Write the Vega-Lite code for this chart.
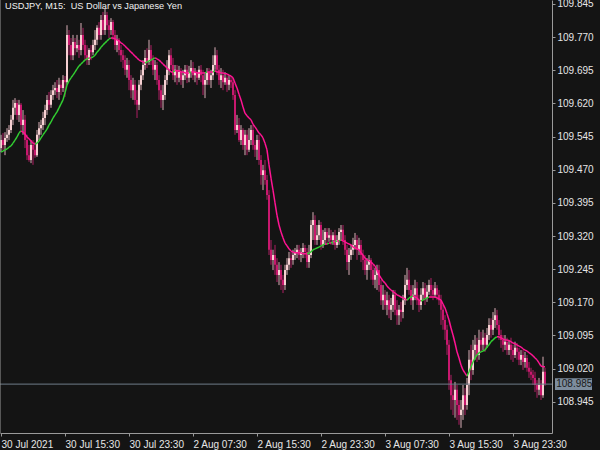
{
"$schema":"https://vega.github.io/schema/vega-lite/v6.json",
"width":552,"height":433,
"autosize":{"type":"none"},
"padding":{"left":0,"top":0,"right":48,"bottom":17},
"background":"#141414",
"title":{"text":"USDJPY, M15:\u00a0 US Dollar vs Japanese Yen","anchor":"start","orient":"top","offset":-13,"dx":5,"frame":"group","font":"Liberation Sans","fontSize":9.2,"fontWeight":"normal","color":"#f0f0f0"},
"config":{"view":{"stroke":null},"axis":{"grid":false,"domainColor":"#9a9a9a","tickColor":"#9a9a9a","labelColor":"#e6e6e6","labelFont":"Liberation Sans","labelFontSize":10,"title":null,"domainWidth":1,"tickWidth":1,"labelOverlap":false,"tickSize":3,"labelBound":false}},
"data":{"values":[
{"i":0,"o":109.519,"h":109.549,"l":109.510,"c":109.537,"m":109.510},
{"i":1,"o":109.537,"h":109.553,"l":109.515,"c":109.526,"m":109.512},
{"i":2,"o":109.526,"h":109.555,"l":109.503,"c":109.542,"m":109.515},
{"i":3,"o":109.542,"h":109.564,"l":109.533,"c":109.549,"m":109.517},
{"i":4,"o":109.549,"h":109.571,"l":109.537,"c":109.560,"m":109.521},
{"i":5,"o":109.560,"h":109.594,"l":109.553,"c":109.583,"m":109.524},
{"i":6,"o":109.583,"h":109.628,"l":109.571,"c":109.610,"m":109.530},
{"i":7,"o":109.610,"h":109.632,"l":109.594,"c":109.621,"m":109.537},
{"i":8,"o":109.621,"h":109.628,"l":109.583,"c":109.594,"m":109.544},
{"i":9,"o":109.594,"h":109.628,"l":109.578,"c":109.617,"m":109.553},
{"i":10,"o":109.617,"h":109.621,"l":109.560,"c":109.571,"m":109.558},
{"i":11,"o":109.571,"h":109.605,"l":109.549,"c":109.583,"m":109.555},
{"i":12,"o":109.583,"h":109.594,"l":109.519,"c":109.537,"m":109.551},
{"i":13,"o":109.537,"h":109.549,"l":109.492,"c":109.503,"m":109.544},
{"i":14,"o":109.503,"h":109.526,"l":109.488,"c":109.492,"m":109.540},
{"i":15,"o":109.492,"h":109.537,"l":109.485,"c":109.526,"m":109.535},
{"i":16,"o":109.526,"h":109.537,"l":109.481,"c":109.515,"m":109.530},
{"i":17,"o":109.515,"h":109.533,"l":109.497,"c":109.503,"m":109.528},
{"i":18,"o":109.503,"h":109.560,"l":109.499,"c":109.549,"m":109.530},
{"i":19,"o":109.549,"h":109.578,"l":109.537,"c":109.564,"m":109.535},
{"i":20,"o":109.564,"h":109.583,"l":109.549,"c":109.571,"m":109.542},
{"i":21,"o":109.571,"h":109.601,"l":109.560,"c":109.587,"m":109.549},
{"i":22,"o":109.587,"h":109.617,"l":109.571,"c":109.605,"m":109.555},
{"i":23,"o":109.605,"h":109.639,"l":109.594,"c":109.628,"m":109.562},
{"i":24,"o":109.628,"h":109.646,"l":109.605,"c":109.617,"m":109.571},
{"i":25,"o":109.617,"h":109.650,"l":109.610,"c":109.639,"m":109.578},
{"i":26,"o":109.639,"h":109.662,"l":109.628,"c":109.650,"m":109.587},
{"i":27,"o":109.650,"h":109.668,"l":109.639,"c":109.655,"m":109.594},
{"i":28,"o":109.655,"h":109.673,"l":109.632,"c":109.646,"m":109.601},
{"i":29,"o":109.646,"h":109.678,"l":109.628,"c":109.662,"m":109.610},
{"i":30,"o":109.662,"h":109.673,"l":109.639,"c":109.655,"m":109.619},
{"i":31,"o":109.655,"h":109.684,"l":109.646,"c":109.673,"m":109.628},
{"i":32,"o":109.673,"h":109.682,"l":109.635,"c":109.668,"m":109.644},
{"i":33,"o":109.668,"h":109.797,"l":109.662,"c":109.775,"m":109.662},
{"i":34,"o":109.775,"h":109.786,"l":109.729,"c":109.752,"m":109.671},
{"i":35,"o":109.752,"h":109.768,"l":109.718,"c":109.729,"m":109.678},
{"i":36,"o":109.729,"h":109.775,"l":109.718,"c":109.759,"m":109.684},
{"i":37,"o":109.759,"h":109.768,"l":109.729,"c":109.745,"m":109.691},
{"i":38,"o":109.745,"h":109.775,"l":109.736,"c":109.752,"m":109.698},
{"i":39,"o":109.752,"h":109.764,"l":109.723,"c":109.741,"m":109.705},
{"i":40,"o":109.741,"h":109.802,"l":109.729,"c":109.775,"m":109.709},
{"i":41,"o":109.775,"h":109.791,"l":109.741,"c":109.752,"m":109.714},
{"i":42,"o":109.752,"h":109.764,"l":109.718,"c":109.729,"m":109.718},
{"i":43,"o":109.729,"h":109.752,"l":109.707,"c":109.718,"m":109.721},
{"i":44,"o":109.718,"h":109.745,"l":109.707,"c":109.741,"m":109.723},
{"i":45,"o":109.741,"h":109.752,"l":109.718,"c":109.736,"m":109.723},
{"i":46,"o":109.736,"h":109.764,"l":109.729,"c":109.752,"m":109.725},
{"i":47,"o":109.752,"h":109.786,"l":109.741,"c":109.764,"m":109.729},
{"i":48,"o":109.764,"h":109.797,"l":109.752,"c":109.791,"m":109.736},
{"i":49,"o":109.791,"h":109.804,"l":109.764,"c":109.775,"m":109.741},
{"i":50,"o":109.775,"h":109.820,"l":109.764,"c":109.809,"m":109.747},
{"i":51,"o":109.809,"h":109.827,"l":109.775,"c":109.786,"m":109.752},
{"i":52,"o":109.786,"h":109.836,"l":109.775,"c":109.820,"m":109.757},
{"i":53,"o":109.820,"h":109.827,"l":109.786,"c":109.797,"m":109.761},
{"i":54,"o":109.797,"h":109.809,"l":109.768,"c":109.786,"m":109.766},
{"i":55,"o":109.786,"h":109.813,"l":109.775,"c":109.804,"m":109.768},
{"i":56,"o":109.804,"h":109.809,"l":109.764,"c":109.775,"m":109.768},
{"i":57,"o":109.775,"h":109.786,"l":109.741,"c":109.752,"m":109.766},
{"i":58,"o":109.752,"h":109.775,"l":109.736,"c":109.764,"m":109.764},
{"i":59,"o":109.764,"h":109.768,"l":109.729,"c":109.741,"m":109.761},
{"i":60,"o":109.741,"h":109.752,"l":109.714,"c":109.729,"m":109.757},
{"i":61,"o":109.729,"h":109.741,"l":109.700,"c":109.718,"m":109.754},
{"i":62,"o":109.718,"h":109.729,"l":109.684,"c":109.696,"m":109.750},
{"i":63,"o":109.696,"h":109.723,"l":109.678,"c":109.707,"m":109.745},
{"i":64,"o":109.707,"h":109.718,"l":109.650,"c":109.673,"m":109.741},
{"i":65,"o":109.673,"h":109.684,"l":109.632,"c":109.650,"m":109.736},
{"i":66,"o":109.650,"h":109.678,"l":109.628,"c":109.662,"m":109.732},
{"i":67,"o":109.662,"h":109.673,"l":109.617,"c":109.628,"m":109.727},
{"i":68,"o":109.628,"h":109.650,"l":109.587,"c":109.617,"m":109.723},
{"i":69,"o":109.617,"h":109.673,"l":109.605,"c":109.662,"m":109.718},
{"i":70,"o":109.662,"h":109.696,"l":109.650,"c":109.684,"m":109.716},
{"i":71,"o":109.684,"h":109.718,"l":109.673,"c":109.707,"m":109.714},
{"i":72,"o":109.707,"h":109.741,"l":109.696,"c":109.723,"m":109.711},
{"i":73,"o":109.723,"h":109.745,"l":109.700,"c":109.714,"m":109.714},
{"i":74,"o":109.714,"h":109.764,"l":109.707,"c":109.741,"m":109.716},
{"i":75,"o":109.741,"h":109.752,"l":109.707,"c":109.718,"m":109.718},
{"i":76,"o":109.718,"h":109.729,"l":109.684,"c":109.696,"m":109.721},
{"i":77,"o":109.696,"h":109.718,"l":109.673,"c":109.707,"m":109.723},
{"i":78,"o":109.707,"h":109.714,"l":109.662,"c":109.673,"m":109.721},
{"i":79,"o":109.673,"h":109.684,"l":109.628,"c":109.650,"m":109.718},
{"i":80,"o":109.650,"h":109.662,"l":109.610,"c":109.628,"m":109.714},
{"i":81,"o":109.628,"h":109.662,"l":109.605,"c":109.639,"m":109.709},
{"i":82,"o":109.639,"h":109.684,"l":109.628,"c":109.673,"m":109.705},
{"i":83,"o":109.673,"h":109.718,"l":109.662,"c":109.696,"m":109.700},
{"i":84,"o":109.696,"h":109.741,"l":109.684,"c":109.729,"m":109.696},
{"i":85,"o":109.729,"h":109.745,"l":109.696,"c":109.707,"m":109.691},
{"i":86,"o":109.707,"h":109.723,"l":109.673,"c":109.684,"m":109.691},
{"i":87,"o":109.684,"h":109.707,"l":109.668,"c":109.696,"m":109.694},
{"i":88,"o":109.696,"h":109.707,"l":109.662,"c":109.678,"m":109.694},
{"i":89,"o":109.678,"h":109.705,"l":109.668,"c":109.691,"m":109.694},
{"i":90,"o":109.691,"h":109.700,"l":109.662,"c":109.673,"m":109.691},
{"i":91,"o":109.673,"h":109.696,"l":109.655,"c":109.684,"m":109.691},
{"i":92,"o":109.684,"h":109.707,"l":109.673,"c":109.696,"m":109.689},
{"i":93,"o":109.696,"h":109.707,"l":109.666,"c":109.678,"m":109.689},
{"i":94,"o":109.678,"h":109.705,"l":109.668,"c":109.691,"m":109.689},
{"i":95,"o":109.691,"h":109.718,"l":109.678,"c":109.700,"m":109.691},
{"i":96,"o":109.700,"h":109.714,"l":109.673,"c":109.684,"m":109.691},
{"i":97,"o":109.684,"h":109.700,"l":109.668,"c":109.691,"m":109.691},
{"i":98,"o":109.691,"h":109.696,"l":109.662,"c":109.678,"m":109.689},
{"i":99,"o":109.678,"h":109.705,"l":109.673,"c":109.696,"m":109.689},
{"i":100,"o":109.696,"h":109.707,"l":109.668,"c":109.684,"m":109.689},
{"i":101,"o":109.684,"h":109.696,"l":109.639,"c":109.662,"m":109.689},
{"i":102,"o":109.662,"h":109.691,"l":109.632,"c":109.673,"m":109.689},
{"i":103,"o":109.673,"h":109.700,"l":109.662,"c":109.691,"m":109.691},
{"i":104,"o":109.691,"h":109.700,"l":109.662,"c":109.673,"m":109.691},
{"i":105,"o":109.673,"h":109.696,"l":109.655,"c":109.684,"m":109.691},
{"i":106,"o":109.684,"h":109.729,"l":109.673,"c":109.707,"m":109.691},
{"i":107,"o":109.707,"h":109.747,"l":109.696,"c":109.729,"m":109.694},
{"i":108,"o":109.729,"h":109.741,"l":109.684,"c":109.696,"m":109.691},
{"i":109,"o":109.696,"h":109.707,"l":109.662,"c":109.673,"m":109.691},
{"i":110,"o":109.673,"h":109.700,"l":109.655,"c":109.684,"m":109.689},
{"i":111,"o":109.684,"h":109.696,"l":109.650,"c":109.668,"m":109.689},
{"i":112,"o":109.668,"h":109.691,"l":109.662,"c":109.678,"m":109.687},
{"i":113,"o":109.678,"h":109.684,"l":109.646,"c":109.662,"m":109.687},
{"i":114,"o":109.662,"h":109.684,"l":109.650,"c":109.673,"m":109.684},
{"i":115,"o":109.673,"h":109.682,"l":109.655,"c":109.668,"m":109.682},
{"i":116,"o":109.668,"h":109.678,"l":109.628,"c":109.639,"m":109.678},
{"i":117,"o":109.639,"h":109.650,"l":109.549,"c":109.560,"m":109.666},
{"i":118,"o":109.560,"h":109.594,"l":109.553,"c":109.571,"m":109.655},
{"i":119,"o":109.571,"h":109.587,"l":109.533,"c":109.537,"m":109.641},
{"i":120,"o":109.537,"h":109.571,"l":109.526,"c":109.560,"m":109.628},
{"i":121,"o":109.560,"h":109.564,"l":109.515,"c":109.526,"m":109.612},
{"i":122,"o":109.526,"h":109.560,"l":109.503,"c":109.549,"m":109.598},
{"i":123,"o":109.549,"h":109.560,"l":109.503,"c":109.515,"m":109.592},
{"i":124,"o":109.515,"h":109.564,"l":109.510,"c":109.537,"m":109.587},
{"i":125,"o":109.537,"h":109.571,"l":109.526,"c":109.560,"m":109.583},
{"i":126,"o":109.560,"h":109.571,"l":109.515,"c":109.526,"m":109.573},
{"i":127,"o":109.526,"h":109.537,"l":109.499,"c":109.515,"m":109.567},
{"i":128,"o":109.515,"h":109.549,"l":109.492,"c":109.537,"m":109.560},
{"i":129,"o":109.537,"h":109.549,"l":109.481,"c":109.492,"m":109.553},
{"i":130,"o":109.492,"h":109.503,"l":109.436,"c":109.458,"m":109.549},
{"i":131,"o":109.458,"h":109.481,"l":109.424,"c":109.469,"m":109.542},
{"i":132,"o":109.469,"h":109.492,"l":109.436,"c":109.447,"m":109.530},
{"i":133,"o":109.447,"h":109.458,"l":109.402,"c":109.413,"m":109.515},
{"i":134,"o":109.413,"h":109.424,"l":109.277,"c":109.289,"m":109.481},
{"i":135,"o":109.289,"h":109.311,"l":109.255,"c":109.266,"m":109.451},
{"i":136,"o":109.266,"h":109.289,"l":109.243,"c":109.277,"m":109.424},
{"i":137,"o":109.277,"h":109.300,"l":109.232,"c":109.255,"m":109.395},
{"i":138,"o":109.255,"h":109.270,"l":109.216,"c":109.232,"m":109.367},
{"i":139,"o":109.232,"h":109.261,"l":109.209,"c":109.243,"m":109.345},
{"i":140,"o":109.243,"h":109.255,"l":109.198,"c":109.221,"m":109.329},
{"i":141,"o":109.221,"h":109.232,"l":109.191,"c":109.209,"m":109.316},
{"i":142,"o":109.209,"h":109.255,"l":109.198,"c":109.243,"m":109.304},
{"i":143,"o":109.243,"h":109.270,"l":109.232,"c":109.255,"m":109.298},
{"i":144,"o":109.255,"h":109.284,"l":109.243,"c":109.270,"m":109.291},
{"i":145,"o":109.270,"h":109.284,"l":109.248,"c":109.266,"m":109.286},
{"i":146,"o":109.266,"h":109.289,"l":109.255,"c":109.277,"m":109.284},
{"i":147,"o":109.277,"h":109.293,"l":109.266,"c":109.284,"m":109.282},
{"i":148,"o":109.284,"h":109.300,"l":109.270,"c":109.289,"m":109.282},
{"i":149,"o":109.289,"h":109.300,"l":109.266,"c":109.277,"m":109.282},
{"i":150,"o":109.277,"h":109.293,"l":109.261,"c":109.284,"m":109.282},
{"i":151,"o":109.284,"h":109.304,"l":109.270,"c":109.293,"m":109.280},
{"i":152,"o":109.293,"h":109.300,"l":109.270,"c":109.284,"m":109.280},
{"i":153,"o":109.284,"h":109.293,"l":109.248,"c":109.261,"m":109.280},
{"i":154,"o":109.261,"h":109.300,"l":109.248,"c":109.277,"m":109.282},
{"i":155,"o":109.277,"h":109.356,"l":109.270,"c":109.345,"m":109.284},
{"i":156,"o":109.345,"h":109.374,"l":109.311,"c":109.356,"m":109.289},
{"i":157,"o":109.356,"h":109.367,"l":109.300,"c":109.311,"m":109.291},
{"i":158,"o":109.311,"h":109.345,"l":109.300,"c":109.322,"m":109.293},
{"i":159,"o":109.322,"h":109.356,"l":109.311,"c":109.345,"m":109.295},
{"i":160,"o":109.345,"h":109.352,"l":109.289,"c":109.300,"m":109.298},
{"i":161,"o":109.300,"h":109.334,"l":109.293,"c":109.311,"m":109.300},
{"i":162,"o":109.311,"h":109.338,"l":109.300,"c":109.329,"m":109.302},
{"i":163,"o":109.329,"h":109.338,"l":109.300,"c":109.316,"m":109.302},
{"i":164,"o":109.316,"h":109.338,"l":109.307,"c":109.322,"m":109.304},
{"i":165,"o":109.322,"h":109.334,"l":109.300,"c":109.311,"m":109.304},
{"i":166,"o":109.311,"h":109.329,"l":109.300,"c":109.322,"m":109.307},
{"i":167,"o":109.322,"h":109.334,"l":109.289,"c":109.300,"m":109.307},
{"i":168,"o":109.300,"h":109.322,"l":109.293,"c":109.311,"m":109.309},
{"i":169,"o":109.311,"h":109.338,"l":109.300,"c":109.329,"m":109.309},
{"i":170,"o":109.329,"h":109.345,"l":109.311,"c":109.334,"m":109.311},
{"i":171,"o":109.334,"h":109.345,"l":109.300,"c":109.311,"m":109.309},
{"i":172,"o":109.311,"h":109.322,"l":109.277,"c":109.289,"m":109.307},
{"i":173,"o":109.289,"h":109.300,"l":109.243,"c":109.261,"m":109.304},
{"i":174,"o":109.261,"h":109.293,"l":109.232,"c":109.277,"m":109.302},
{"i":175,"o":109.277,"h":109.300,"l":109.266,"c":109.289,"m":109.300},
{"i":176,"o":109.289,"h":109.316,"l":109.277,"c":109.300,"m":109.295},
{"i":177,"o":109.300,"h":109.327,"l":109.289,"c":109.311,"m":109.293},
{"i":178,"o":109.311,"h":109.322,"l":109.266,"c":109.289,"m":109.291},
{"i":179,"o":109.289,"h":109.316,"l":109.277,"c":109.300,"m":109.289},
{"i":180,"o":109.300,"h":109.311,"l":109.261,"c":109.277,"m":109.282},
{"i":181,"o":109.277,"h":109.289,"l":109.243,"c":109.266,"m":109.277},
{"i":182,"o":109.266,"h":109.277,"l":109.232,"c":109.243,"m":109.270},
{"i":183,"o":109.243,"h":109.270,"l":109.221,"c":109.255,"m":109.266},
{"i":184,"o":109.255,"h":109.277,"l":109.243,"c":109.266,"m":109.264},
{"i":185,"o":109.266,"h":109.270,"l":109.221,"c":109.243,"m":109.261},
{"i":186,"o":109.243,"h":109.255,"l":109.209,"c":109.221,"m":109.257},
{"i":187,"o":109.221,"h":109.248,"l":109.202,"c":109.232,"m":109.252},
{"i":188,"o":109.232,"h":109.255,"l":109.198,"c":109.243,"m":109.243},
{"i":189,"o":109.243,"h":109.255,"l":109.194,"c":109.209,"m":109.232},
{"i":190,"o":109.209,"h":109.221,"l":109.164,"c":109.175,"m":109.225},
{"i":191,"o":109.175,"h":109.209,"l":109.153,"c":109.187,"m":109.218},
{"i":192,"o":109.187,"h":109.198,"l":109.153,"c":109.164,"m":109.214},
{"i":193,"o":109.164,"h":109.194,"l":109.141,"c":109.175,"m":109.207},
{"i":194,"o":109.175,"h":109.187,"l":109.134,"c":109.153,"m":109.202},
{"i":195,"o":109.153,"h":109.180,"l":109.130,"c":109.164,"m":109.198},
{"i":196,"o":109.164,"h":109.198,"l":109.148,"c":109.187,"m":109.194},
{"i":197,"o":109.187,"h":109.198,"l":109.141,"c":109.153,"m":109.191},
{"i":198,"o":109.153,"h":109.175,"l":109.119,"c":109.141,"m":109.187},
{"i":199,"o":109.141,"h":109.164,"l":109.119,"c":109.153,"m":109.185},
{"i":200,"o":109.153,"h":109.171,"l":109.126,"c":109.148,"m":109.182},
{"i":201,"o":109.148,"h":109.187,"l":109.134,"c":109.175,"m":109.180},
{"i":202,"o":109.175,"h":109.232,"l":109.164,"c":109.209,"m":109.178},
{"i":203,"o":109.209,"h":109.248,"l":109.198,"c":109.221,"m":109.175},
{"i":204,"o":109.221,"h":109.243,"l":109.187,"c":109.198,"m":109.180},
{"i":205,"o":109.198,"h":109.209,"l":109.164,"c":109.175,"m":109.182},
{"i":206,"o":109.175,"h":109.209,"l":109.153,"c":109.187,"m":109.185},
{"i":207,"o":109.187,"h":109.221,"l":109.175,"c":109.202,"m":109.182},
{"i":208,"o":109.202,"h":109.216,"l":109.164,"c":109.175,"m":109.180},
{"i":209,"o":109.175,"h":109.187,"l":109.148,"c":109.164,"m":109.175},
{"i":210,"o":109.164,"h":109.202,"l":109.153,"c":109.187,"m":109.173},
{"i":211,"o":109.187,"h":109.216,"l":109.175,"c":109.202,"m":109.175},
{"i":212,"o":109.202,"h":109.214,"l":109.164,"c":109.180,"m":109.178},
{"i":213,"o":109.180,"h":109.209,"l":109.171,"c":109.194,"m":109.180},
{"i":214,"o":109.194,"h":109.221,"l":109.187,"c":109.209,"m":109.182},
{"i":215,"o":109.209,"h":109.225,"l":109.180,"c":109.198,"m":109.182},
{"i":216,"o":109.198,"h":109.209,"l":109.175,"c":109.187,"m":109.182},
{"i":217,"o":109.187,"h":109.216,"l":109.180,"c":109.202,"m":109.182},
{"i":218,"o":109.202,"h":109.209,"l":109.175,"c":109.187,"m":109.180},
{"i":219,"o":109.187,"h":109.198,"l":109.164,"c":109.175,"m":109.178},
{"i":220,"o":109.175,"h":109.187,"l":109.119,"c":109.153,"m":109.175},
{"i":221,"o":109.153,"h":109.164,"l":109.108,"c":109.130,"m":109.166},
{"i":222,"o":109.130,"h":109.141,"l":109.085,"c":109.108,"m":109.157},
{"i":223,"o":109.108,"h":109.119,"l":109.051,"c":109.074,"m":109.144},
{"i":224,"o":109.074,"h":109.085,"l":108.972,"c":108.994,"m":109.130},
{"i":225,"o":108.994,"h":109.006,"l":108.927,"c":108.960,"m":109.112},
{"i":226,"o":108.960,"h":108.983,"l":108.915,"c":108.949,"m":109.096},
{"i":227,"o":108.949,"h":108.990,"l":108.909,"c":108.972,"m":109.078},
{"i":228,"o":108.972,"h":108.983,"l":108.904,"c":108.938,"m":109.058},
{"i":229,"o":108.938,"h":108.949,"l":108.893,"c":108.915,"m":109.044},
{"i":230,"o":108.915,"h":108.949,"l":108.886,"c":108.927,"m":109.028},
{"i":231,"o":108.927,"h":108.983,"l":108.904,"c":108.960,"m":109.017},
{"i":232,"o":108.960,"h":108.976,"l":108.915,"c":108.938,"m":109.010},
{"i":233,"o":108.938,"h":108.999,"l":108.927,"c":108.983,"m":109.003},
{"i":234,"o":108.983,"h":109.062,"l":108.960,"c":109.040,"m":109.013},
{"i":235,"o":109.040,"h":109.074,"l":108.994,"c":109.017,"m":109.024},
{"i":236,"o":109.017,"h":109.085,"l":109.006,"c":109.062,"m":109.035},
{"i":237,"o":109.062,"h":109.096,"l":109.040,"c":109.074,"m":109.044},
{"i":238,"o":109.074,"h":109.090,"l":109.035,"c":109.051,"m":109.051},
{"i":239,"o":109.051,"h":109.108,"l":109.040,"c":109.085,"m":109.056},
{"i":240,"o":109.085,"h":109.103,"l":109.058,"c":109.074,"m":109.058},
{"i":241,"o":109.074,"h":109.108,"l":109.062,"c":109.090,"m":109.060},
{"i":242,"o":109.090,"h":109.101,"l":109.058,"c":109.074,"m":109.062},
{"i":243,"o":109.074,"h":109.112,"l":109.067,"c":109.096,"m":109.069},
{"i":244,"o":109.096,"h":109.134,"l":109.085,"c":109.119,"m":109.074},
{"i":245,"o":109.119,"h":109.134,"l":109.090,"c":109.108,"m":109.081},
{"i":246,"o":109.108,"h":109.148,"l":109.096,"c":109.130,"m":109.085},
{"i":247,"o":109.130,"h":109.157,"l":109.112,"c":109.141,"m":109.090},
{"i":248,"o":109.141,"h":109.153,"l":109.108,"c":109.119,"m":109.092},
{"i":249,"o":109.119,"h":109.130,"l":109.085,"c":109.096,"m":109.092},
{"i":250,"o":109.096,"h":109.108,"l":109.067,"c":109.085,"m":109.090},
{"i":251,"o":109.085,"h":109.096,"l":109.058,"c":109.074,"m":109.087},
{"i":252,"o":109.074,"h":109.096,"l":109.062,"c":109.081,"m":109.085},
{"i":253,"o":109.081,"h":109.090,"l":109.051,"c":109.062,"m":109.085},
{"i":254,"o":109.062,"h":109.085,"l":109.051,"c":109.074,"m":109.083},
{"i":255,"o":109.074,"h":109.090,"l":109.040,"c":109.062,"m":109.081},
{"i":256,"o":109.062,"h":109.074,"l":109.035,"c":109.051,"m":109.078},
{"i":257,"o":109.051,"h":109.081,"l":109.044,"c":109.067,"m":109.076},
{"i":258,"o":109.067,"h":109.078,"l":109.040,"c":109.058,"m":109.074},
{"i":259,"o":109.058,"h":109.067,"l":109.028,"c":109.040,"m":109.071},
{"i":260,"o":109.040,"h":109.062,"l":109.028,"c":109.051,"m":109.069},
{"i":261,"o":109.051,"h":109.062,"l":109.017,"c":109.035,"m":109.065},
{"i":262,"o":109.035,"h":109.058,"l":109.022,"c":109.044,"m":109.062},
{"i":263,"o":109.044,"h":109.051,"l":109.013,"c":109.022,"m":109.060},
{"i":264,"o":109.022,"h":109.035,"l":108.999,"c":109.013,"m":109.056},
{"i":265,"o":109.013,"h":109.022,"l":108.994,"c":109.006,"m":109.053},
{"i":266,"o":109.006,"h":109.017,"l":108.983,"c":108.999,"m":109.049},
{"i":267,"o":108.999,"h":109.013,"l":108.967,"c":108.983,"m":109.044},
{"i":268,"o":108.983,"h":108.994,"l":108.954,"c":108.972,"m":109.040},
{"i":269,"o":108.972,"h":108.999,"l":108.960,"c":108.983,"m":109.033},
{"i":270,"o":108.983,"h":108.994,"l":108.949,"c":108.960,"m":109.026},
{"i":271,"o":108.960,"h":109.047,"l":108.954,"c":109.013,"m":109.024},
{"i":272,"o":109.013,"h":109.022,"l":108.981,"c":108.985,"m":109.024}
]},
"encoding":{
  "x":{"field":"i","type":"quantitative","scale":{"domain":[-0.5,275.5],"nice":false,"zero":false},
   "axis":{"orient":"bottom","values":[0,32,64,96,128,160,192,224,256],"labelAlign":"left","labelBaseline":"top","labelPadding":3,"labelFlush":false,"labelOverlap":false,
    "labelExpr":"datum.value==0?'30 Jul 2021':datum.value==32?'30 Jul 15:30':datum.value==64?'30 Jul 23:30':datum.value==96?'2 Aug 07:30':datum.value==128?'2 Aug 15:30':datum.value==160?'2 Aug 23:30':datum.value==192?'3 Aug 07:30':datum.value==224?'3 Aug 15:30':'3 Aug 23:30'"}},
  "y":{"field":"l","type":"quantitative","scale":{"domain":[108.8744,109.854],"nice":false,"zero":false},
   "axis":{"orient":"right","values":[108.945,109.02,109.095,109.17,109.245,109.32,109.395,109.47,109.545,109.62,109.695,109.77,109.845],"format":".3f","labelPadding":2,"labelAlign":"left","labelBaseline":"middle","labelFlush":false,"labelOverlap":false}}
},
"layer":[
{"mark":{"type":"rule","strokeWidth":1},
 "encoding":{
  "y2":{"field":"h"},
  "color":{"condition":{"test":"datum.c>=datum.o","value":"#d8aeb6"},"value":"#ad1f62"}
 }},
{"mark":{"type":"rule","strokeWidth":2},
 "encoding":{
  "y":{"field":"o","type":"quantitative"},
  "y2":{"field":"c"},
  "color":{"condition":{"test":"datum.c>=datum.o","value":"#f6d0d2"},"value":"#c8186e"}
 }},
{"transform":[{"window":[{"op":"lag","field":"m","as":"mp"},{"op":"lag","field":"i","as":"ip"}],"sort":[{"field":"i"}]},{"filter":"datum.mp != null"}],
 "mark":{"type":"rule","strokeWidth":1.5},
 "encoding":{
  "x":{"field":"ip","type":"quantitative"},
  "x2":{"field":"i"},
  "y":{"field":"mp","type":"quantitative"},
  "y2":{"field":"m"},
  "color":{"condition":{"test":"datum.m>datum.mp","value":"#32cd32"},"value":"#ff1493"}
 }},
{"data":{"values":[{"i":-0.5,"l":108.985},{"i":275.5,"l":108.985}]},
 "mark":{"type":"line","strokeWidth":1,"color":"#6f7c89"},
 "encoding":{}},
{"data":{"values":[{"i":-0.5,"l":108.8744},{"i":-0.5,"l":109.854}]},
 "mark":{"type":"line","strokeWidth":1,"color":"#9a9a9a"},
 "encoding":{}},
{"data":{"values":[{"i":277,"i2":295.5,"l":108.9715,"l2":108.9985}]},
 "mark":{"type":"rect","color":"#7d8d9e"},
 "encoding":{"x2":{"field":"i2"},"y2":{"field":"l2"}}},
{"data":{"values":[{"i":277.6,"l":108.985,"t":"108.985"}]},
 "mark":{"type":"text","align":"left","baseline":"middle","font":"Liberation Sans","fontSize":10,"color":"#1a1a1a"},
 "encoding":{"text":{"field":"t"}}}
]
}
